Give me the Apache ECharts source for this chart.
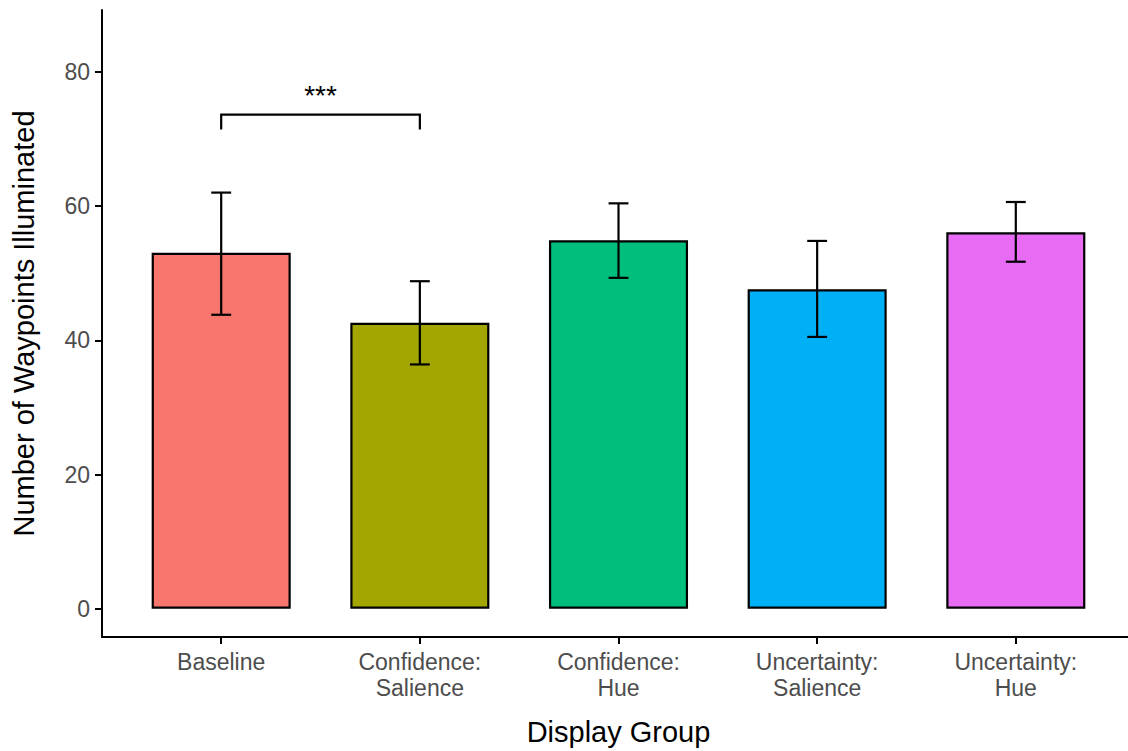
<!DOCTYPE html>
<html><head><meta charset="utf-8">
<script src="https://cdn.jsdelivr.net/npm/echarts@6/dist/echarts.min.js"></script>
<style>html,body{margin:0;padding:0;background:#fff;overflow:hidden}#c{width:1140px;height:751px}</style>
</head><body><div id="c"></div>
<script>
// ---- data ----
const categories = ['Baseline', 'Confidence:\nSalience', 'Confidence:\nHue', 'Uncertainty:\nSalience', 'Uncertainty:\nHue'];
const means   = [53.05, 42.6, 54.9, 47.6, 56.1];
const errLow  = [43.8, 36.4, 49.3, 40.5, 51.7];
const errHigh = [62.0, 48.8, 60.4, 54.8, 60.6];
const barColors = ['#F8766D', '#A3A500', '#00BF7D', '#00B0F6', '#E76BF3'];
const yTicks = [0, 20, 40, 60, 80];
const bracketPair = [1, 2];      // positions of compared groups
const bracketY = 73.6;
const bracketLegY = 71.4;
const signifLabel = '***';
const signifLabelY = 76.5;

const FONT = "'Liberation Sans', Arial, sans-serif";
const positions = categories.map((c, i) => i + 1);

const chart = echarts.init(document.getElementById('c'), null, {renderer: 'svg'});
chart.setOption({
  animation: false,
  backgroundColor: '#fff',
  grid: {left: 102, top: 10, width: 1033, height: 627, containLabel: false},
  xAxis: {
    type: 'value', min: 0.4, max: 5.6,
    name: 'Display Group', nameLocation: 'middle', nameGap: 80,
    nameTextStyle: {fontSize: 29, color: '#000', fontFamily: FONT},
    splitLine: {show: false},
    axisLine: {show: true, onZero: false, lineStyle: {color: '#000', width: 2}},
    axisTick: {show: true, length: 7, lineStyle: {color: '#000', width: 2}, customValues: positions},
    axisLabel: {
      customValues: positions, margin: 12, fontSize: 23, lineHeight: 26, color: '#4D4D4D', fontFamily: FONT,
      formatter: v => categories[Math.round(v) - 1] || ''
    }
  },
  yAxis: {
    type: 'value', min: -4.2, max: 89.2,
    name: 'Number of Waypoints Illuminated', nameLocation: 'middle', nameGap: 64,
    nameTextStyle: {fontSize: 29, color: '#000', fontFamily: FONT},
    splitLine: {show: false},
    axisLine: {show: true, onZero: false, lineStyle: {color: '#000', width: 2}},
    axisTick: {show: true, length: 7, lineStyle: {color: '#000', width: 2}, customValues: yTicks},
    axisLabel: {customValues: yTicks, margin: 12, fontSize: 23, color: '#4D4D4D', fontFamily: FONT}
  },
  series: [
    {
      type: 'bar',
      z: 2,
      barWidth: '70%',
      data: means.map((v, i) => ({value: [positions[i], v], itemStyle: {color: barColors[i]}})),
      itemStyle: {borderColor: '#000', borderWidth: 2.2}
    },
    {
      type: 'custom',
      z: 5,
      data: errLow.map((l, i) => [positions[i], l, errHigh[i]]),
      encode: {x: 0, y: [1, 2]},
      renderItem: function (params, api) {
        const x = api.value(0);
        const top = api.coord([x, api.value(2)]);
        const bot = api.coord([x, api.value(1)]);
        const half = api.size([0.1, 0])[0] / 2;
        const st = {stroke: '#000', lineWidth: 2.2};
        return {type: 'group', children: [
          {type: 'line', shape: {x1: top[0], y1: top[1], x2: bot[0], y2: bot[1]}, style: st},
          {type: 'line', shape: {x1: top[0] - half, y1: top[1], x2: top[0] + half, y2: top[1]}, style: st},
          {type: 'line', shape: {x1: bot[0] - half, y1: bot[1], x2: bot[0] + half, y2: bot[1]}, style: st}
        ]};
      }
    },
    {
      type: 'custom',
      z: 5,
      data: [[bracketPair[0], bracketPair[1], bracketY, bracketLegY, signifLabelY]],
      renderItem: function (params, api) {
        const x1 = api.value(0), x2 = api.value(1), y = api.value(2), ly = api.value(3), ty = api.value(4);
        const pts = [api.coord([x1, ly]), api.coord([x1, y]), api.coord([x2, y]), api.coord([x2, ly])];
        const tp = api.coord([(x1 + x2) / 2, ty]);
        return {type: 'group', children: [
          {type: 'polyline', shape: {points: pts}, style: {stroke: '#000', lineWidth: 2.2, fill: null}},
          {type: 'text', x: tp[0], y: tp[1], style: {text: signifLabel, fontSize: 28, fill: '#000', align: 'center', verticalAlign: 'middle', fontFamily: FONT}}
        ]};
      }
    }
  ]
});
</script>
</body></html>
